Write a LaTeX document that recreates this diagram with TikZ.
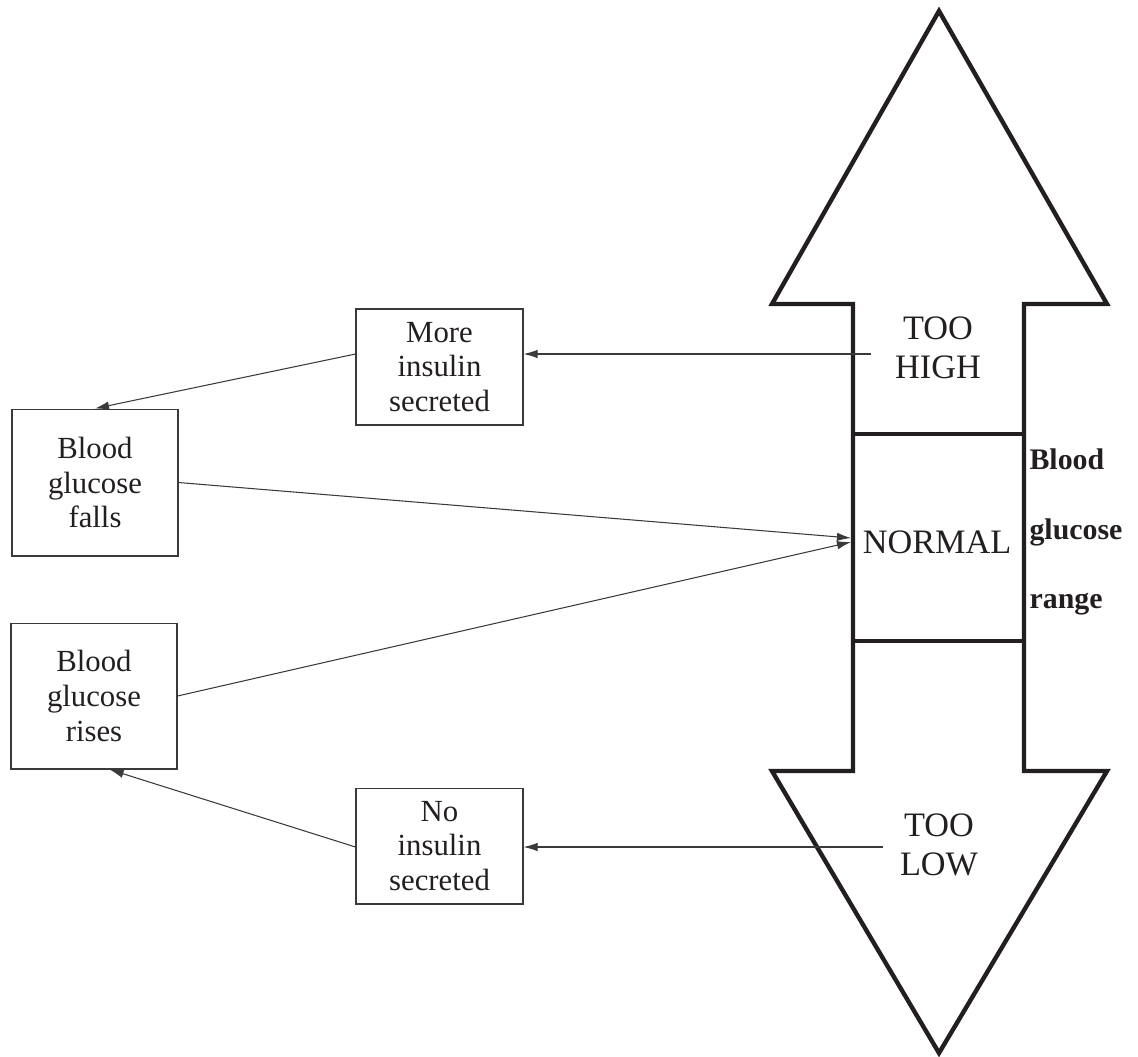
\documentclass[tikz,border=0pt]{standalone}
\usepackage{fontspec}
\setmainfont{Liberation Serif}
\usepackage{xcolor}
\usetikzlibrary{arrows.meta}
\definecolor{ink}{HTML}{231F20}
\definecolor{thin}{HTML}{3A3A3A}
\tikzset{
  bigline/.style={draw=ink, line width=2.5pt, line join=miter},
  box/.style={draw=thin, line width=0.6pt, align=center, inner sep=0pt,
    font=\fontsize{17.5}{19.8}\selectfont, text=ink},
  conn/.style={draw=thin, line width=0.6pt, -{Latex[length=8pt,width=4.8pt]}},
  lbl/.style={text=ink, align=center, font=\fontsize{19.5}{22.5}\selectfont},
  rlabel/.style={text=ink, align=left, font=\fontsize{17}{39.7}\selectfont\bfseries}
}
\begin{document}
\begin{tikzpicture}[x=0.02cm, y=-0.02cm]
  \useasboundingbox (0,0) rectangle (1138,1056);

  % double arrow of the glucose range
  \draw[bigline] (939,11) -- (1107,304) -- (1024,304) -- (1024,771) -- (1107,771)
    -- (939,1053) -- (772,771) -- (853,771) -- (853,304) -- (772,304) -- cycle;
  \draw[bigline] (853,434) -- (1024,434);
  \draw[bigline] (853,641) -- (1024,641);

  \node[lbl] (high) at (938,348) {TOO\\HIGH};
  \node[lbl] (normal) at (937,542) {NORMAL};
  \node[lbl] (low) at (939,845) {TOO\\LOW};
  \node[rlabel] (range) at (1076,532) {Blood\\glucose\\range};

  % boxes
  \node[box, minimum width=3.34cm, minimum height=2.32cm] (more) at (439.5,367) {More\\insulin\\secreted};
  \node[box, minimum width=3.32cm, minimum height=2.94cm] (falls) at (95,482.5) {Blood\\glucose\\falls};
  \node[box, minimum width=3.32cm, minimum height=2.92cm] (rises) at (94,696) {Blood\\glucose\\rises};
  \node[box, minimum width=3.34cm, minimum height=2.32cm] (none) at (439.5,846) {No\\insulin\\secreted};

  \coordinate (hs) at (871,354);
  \coordinate (ls) at (883,847);
  \coordinate (n1) at (851,538);
  \coordinate (n2) at (851,542);

  % connectors
  \draw[conn] (hs) -- (more.east |- hs);
  \draw[conn] (more.west |- hs) -- (falls.north);
  \draw[conn] (falls.east) -- (n1);
  \draw[conn] (rises.east) -- (n2);
  \draw[conn] (ls) -- (none.east |- ls);
  \draw[conn] (none.west |- ls) -- (rises.-78);
\end{tikzpicture}
\end{document}
